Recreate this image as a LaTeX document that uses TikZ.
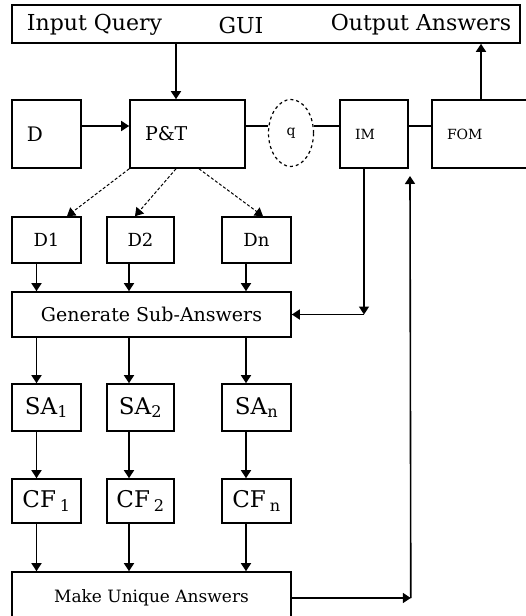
\documentclass[tikz,border=0pt]{standalone}
\usepackage{fontspec}
\setmainfont{DejaVu Serif}
\usetikzlibrary{positioning,arrows.meta,calc,shapes.geometric}
\newcommand{\fsz}[1]{\fontsize{#1}{#1}\selectfont}

\begin{document}
\begin{tikzpicture}[x=1pt, y=-1pt,
  every node/.style={inner sep=0pt},
  blk/.style={draw, line width=1.6pt, rectangle, inner sep=0pt},
  tbox/.style={blk, align=left, inner xsep=15pt, minimum height=68pt, font=\fsz{19}},
  arr/.style={-{Triangle[width=10pt,length=8pt]}, line width=1.6pt},
  link/.style={line width=1.6pt},
  split/.style={-{Triangle[width=10pt,length=8pt]}, line width=1pt, densely dashed}
]
\useasboundingbox (0,0) rectangle (525,616);
\fill[white] (0,0) rectangle (525,616);
% GUI bar
\node[blk, minimum width=508pt, minimum height=38pt] (gui) at (266,24) {};
\node[font=\fsz{22}] (inq) at (94.5,25) {Input Query};
\node[font=\fsz{22}] (guit) at (241,25) {GUI};
\node[font=\fsz{22}] (outa) at (421,25) {Output Answers};
% Top row
\node[tbox, text width=39pt, font=\fsz{20}] (d) at (46.5,134) {D};
\node[tbox, text width=85pt] (pt) at (187.5,134) {P\&T};
\node[ellipse, draw, dashed, line width=1.2pt, minimum width=45pt, minimum height=67pt, font=\fsz{14}] (q) at (291,133) {q};
\node[tbox, text width=38pt, font=\fsz{14}] (im) at (374,134) {IM};
\node[tbox, text width=68pt, font=\fsz{14}] (fom) at (481,134) {FOM};
\draw[arr] ([xshift=-11.5pt]pt.north |- gui.south) -- ([xshift=-11.5pt]pt.north);
\draw[arr] (fom.north) -- (fom.north |- gui.south);
\draw[arr] ([yshift=8pt]d.east) -- ([yshift=8pt]d.east -| pt.west);
\draw[link] ([yshift=8pt]pt.east) -- ([yshift=8pt]pt.east -| q.west);
\draw[link] ([yshift=7pt]q.east) -- ([yshift=7pt]q.east -| im.west);
\draw[link] ([yshift=8pt]im.east) -- ([yshift=8pt]im.east -| fom.west);
% Partitions
\node[blk, minimum width=69pt, minimum height=46pt, font=\fsz{18}] (d1) at (46.5,240) {D1};
\node[blk, minimum width=67pt, minimum height=46pt, font=\fsz{18}] (d2) at (140.5,240) {D2};
\node[blk, minimum width=69pt, minimum height=46pt, font=\fsz{18}] (dn) at (256.5,240) {Dn};
\draw[split] (pt.south west) -- ([xshift=20.5pt]d1.north);
\draw[split] ([xshift=-11.5pt]pt.south) -- ([xshift=-5.5pt]d2.north);
\draw[split] ([xshift=11.5pt]pt.south) -- ([xshift=6.5pt]dn.north);
% Sub-answers
\node[blk, minimum width=279pt, minimum height=45pt, font=\fsz{19}] (gsa) at (151.5,314.5) {Generate Sub-Answers};
\draw[arr] ([xshift=-10pt]d1.south) -- ([xshift=-10pt]d1.south |- gsa.north);
\draw[arr] ([xshift=-11.5pt]d2.south) -- ([xshift=-11.5pt]d2.south |- gsa.north);
\draw[arr] ([xshift=-10.5pt]dn.south) -- ([xshift=-10.5pt]dn.south |- gsa.north);
\coordinate (imc) at ([xshift=-10pt]im.south |- gsa.east);
\draw[arr] ([xshift=-10pt]im.south) -- (imc);
\draw[arr] (imc) -- (gsa.east);
\node[blk, minimum width=69pt, minimum height=47pt, font=\fsz{23}] (sa1) at (46.5,407.5) {SA\textsubscript{1}};
\node[blk, minimum width=67pt, minimum height=47pt, font=\fsz{23}] (sa2) at (140.5,407.5) {SA\textsubscript{2}};
\node[blk, minimum width=69pt, minimum height=47pt, font=\fsz{23}] (san) at (256.5,407.5) {SA\textsubscript{n}};
\draw[arr] ([xshift=-10pt]sa1.north |- gsa.south) -- ([xshift=-10pt]sa1.north);
\draw[arr] ([xshift=-11.5pt]sa2.north |- gsa.south) -- ([xshift=-11.5pt]sa2.north);
\draw[arr] ([xshift=-10.5pt]san.north |- gsa.south) -- ([xshift=-10.5pt]san.north);
% Confidence factors
\node[blk, minimum width=69pt, minimum height=44pt, font=\fsz{23}] (cf1) at (46.5,501) {CF\,\textsubscript{1}};
\node[blk, minimum width=67pt, minimum height=44pt, font=\fsz{23}] (cf2) at (140.5,501) {CF\,\textsubscript{2}};
\node[blk, minimum width=69pt, minimum height=44pt, font=\fsz{23}] (cfn) at (256.5,501) {CF\,\textsubscript{n}};
\draw[arr] ([xshift=-10pt]sa1.south) -- ([xshift=-10pt]cf1.north);
\draw[arr] ([xshift=-11.5pt]sa2.south) -- ([xshift=-11.5pt]cf2.north);
\draw[arr] ([xshift=-10.5pt]san.south) -- ([xshift=-10.5pt]cfn.north);
% Unique answers and feedback
\node[blk, minimum width=279pt, minimum height=52pt, font=\fsz{17}] (mua) at (151.5,598) {Make Unique Answers};
\draw[arr] ([xshift=-10pt]cf1.south) -- ([xshift=-10pt]cf1.south |- mua.north);
\draw[arr] ([xshift=-11.5pt]cf2.south) -- ([xshift=-11.5pt]cf2.south |- mua.north);
\draw[arr] ([xshift=-10.5pt]cfn.south) -- ([xshift=-10.5pt]cfn.south |- mua.north);
\coordinate (muc) at ([xshift=119pt]mua.east);
\coordinate (imb) at (410,176);
\draw[arr] (mua.east) -- (muc);
\draw[arr] (muc) -- (imb);
\end{tikzpicture}
\end{document}
